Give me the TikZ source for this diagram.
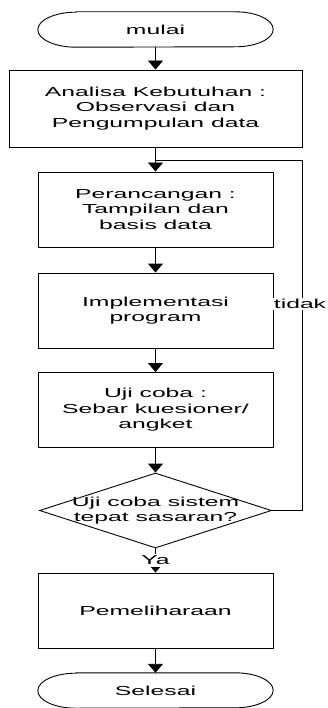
\documentclass[tikz,border=0pt]{standalone}
\usepackage{fontspec}
\setmainfont{Liberation Sans}[FakeStretch=1.9]
\usetikzlibrary{shapes.geometric,arrows.meta}
\newcommand\termoutline[1]{%
  \draw[line width=0.9pt] ([xshift=38pt]#1.north west) -- ([xshift=-38pt]#1.north east)
    arc[start angle=90,end angle=-90,x radius=38pt,y radius=17.5pt]
    -- ([xshift=38pt]#1.south west)
    arc[start angle=270,end angle=90,x radius=38pt,y radius=17.5pt] -- cycle;}
\begin{document}
\begin{tikzpicture}[
  txt/.style={font=\fontsize{13}{15.5}\selectfont, align=center},
  box/.style={txt, draw, line width=0.9pt, minimum width=235pt, minimum height=75pt, inner sep=0pt},
  term/.style={txt, minimum width=235pt, minimum height=35pt, inner sep=0pt},
  arr/.style={line width=0.9pt, -{Triangle[width=15pt,length=9pt]}},
  lab/.style={txt, fill=white, inner sep=1.5pt}
]
\useasboundingbox (0,0) rectangle (328pt,-708pt);
\clip (0,0) rectangle (328pt,-708pt);
\node[term] (mulai) at (155.5pt,-29.5pt) {mulai};
\termoutline{mulai}
\node[box, minimum width=293pt, minimum height=77pt] (b1) at (155.5pt,-108.5pt) {Analisa Kebutuhan :\\Observasi dan\\Pengumpulan data};
\node[box] (b2) at (155.5pt,-209.5pt) {Perancangan :\\Tampilan dan\\basis data};
\node[box] (b3) at (155.5pt,-310.5pt) {Implementasi\\program};
\node[box] (b4) at (155.5pt,-410pt) {Uji coba :\\Sebar kuesioner/\\angket};
\node[diamond, draw, line width=0.9pt, minimum width=232pt, minimum height=75pt, inner sep=0pt] (dec) at (155.5pt,-510.5pt) {};
\node[txt] (dtext) at (155.5pt,-510.5pt) {Uji coba sistem\\tepat sasaran?};
\node[box] (b5) at (155.5pt,-610.5pt) {Pemeliharaan};
\node[term] (sel) at (155.5pt,-690.5pt) {Selesai};
\termoutline{sel}
\coordinate (jn) at (155.5pt,-160pt);
\coordinate (c1) at (302pt,-510.5pt);
\coordinate (c2) at (302pt,-160pt);
\draw[arr] (mulai) -- (b1);
\draw[arr] (b1) -- (b2);
\draw[arr] (b2) -- (b3);
\draw[arr] (b3) -- (b4);
\draw[arr] (b4) -- (dec);
\draw[arr] (dec) -- node[lab] (ya) {Ya} (b5);
\draw[arr] (b5) -- (sel);
\draw[line width=0.9pt] (dec.east) -- (c1) -- (c2) -- (jn);
\node[lab] (tidak) at (300pt,-304pt) {tidak};
\end{tikzpicture}
\end{document}
